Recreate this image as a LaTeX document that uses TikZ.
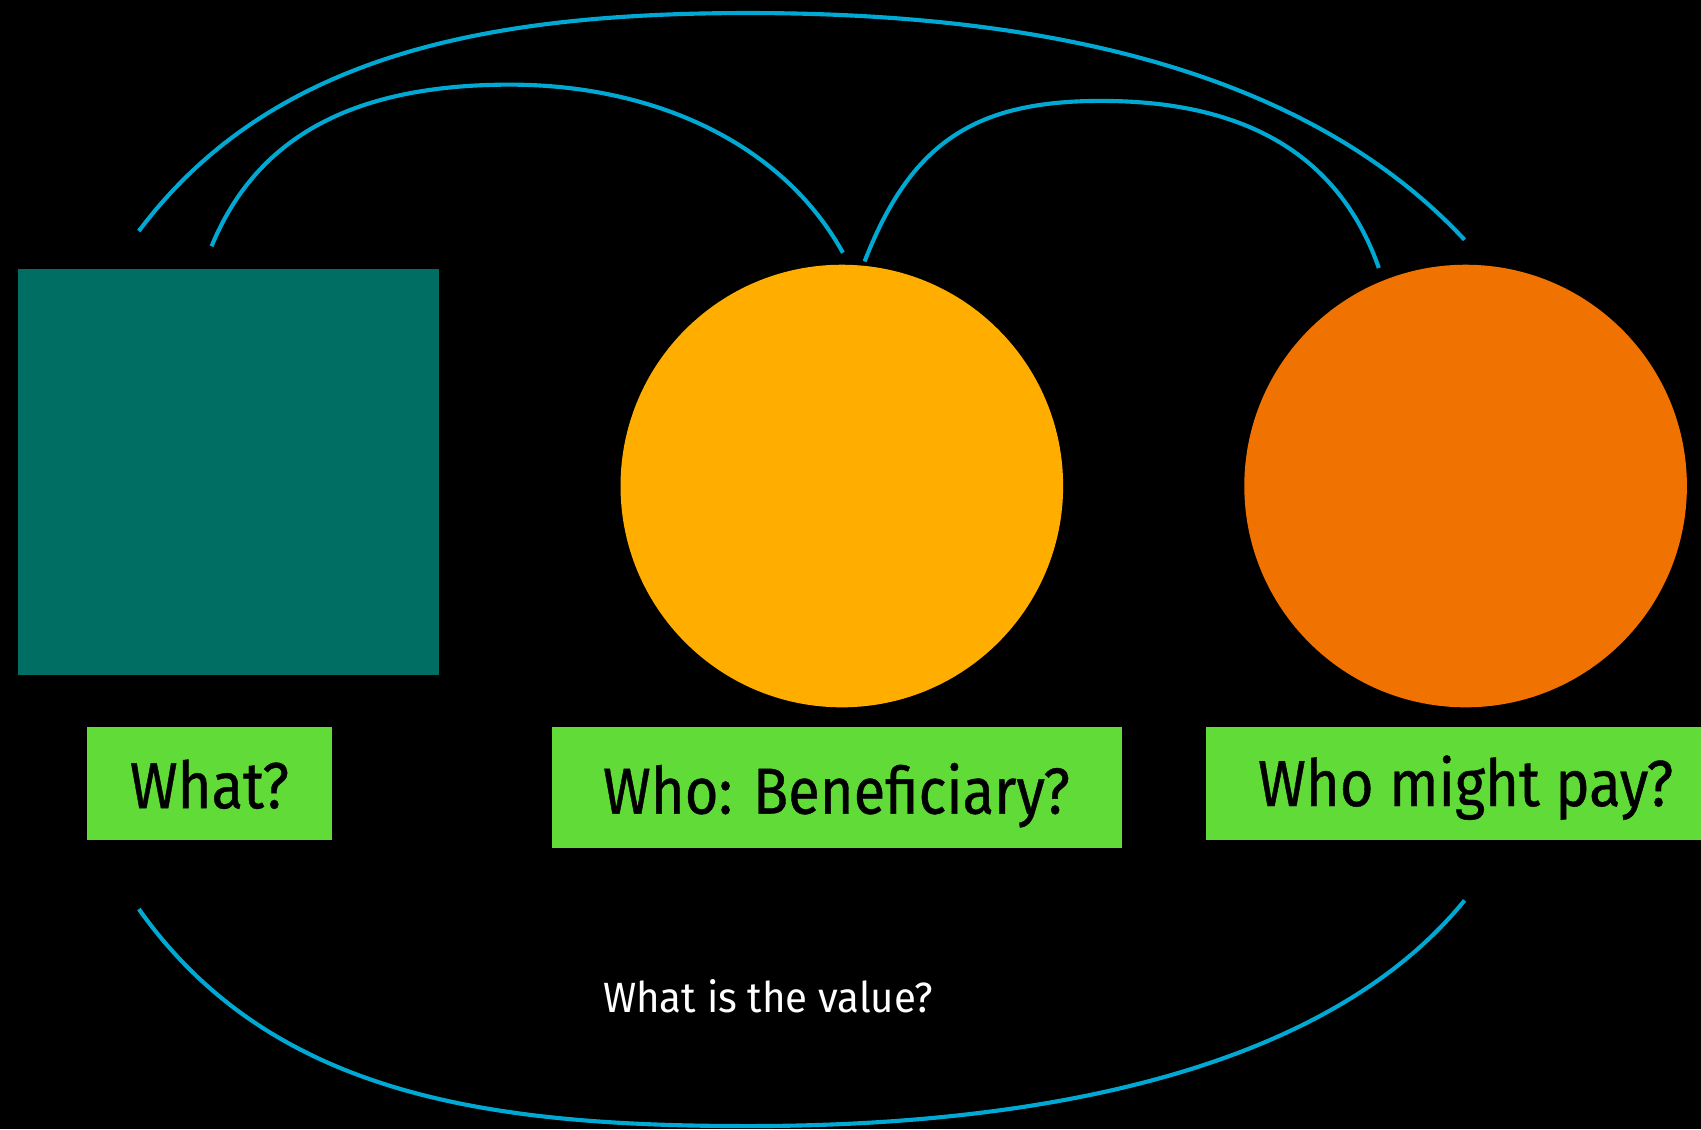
\documentclass[tikz,border=0pt]{standalone}
\usepackage{fontspec}
\setmainfont{Fira Sans}[FakeStretch=0.89,FakeBold=0.6]
\newfontfamily\valfont{Fira Sans}[FakeStretch=0.95]
\definecolor{teal1}{RGB}{1,110,100}
\definecolor{sun}{RGB}{255,174,0}
\definecolor{tang}{RGB}{240,114,0}
\definecolor{lime}{RGB}{96,219,56}
\definecolor{sky}{RGB}{0,169,212}
\begin{document}
\begin{tikzpicture}[x=0.5pt,y=-0.5pt,
  box/.style={fill=lime,draw=none,inner sep=0pt},
  lbl/.style={anchor=base,inner sep=0pt,font=\fontsize{30}{36}\selectfont,text=black},
  link/.style={draw=sky,line width=1.9pt}]
\fill[black] (0,0) rectangle (1568,1041);
\useasboundingbox (0,0) rectangle (1568,1041);
% shapes
\node[fill=teal1,inner sep=0pt,minimum width=194pt,minimum height=187pt] (sq) at (211,435) {};
\node[circle,fill=sun,inner sep=0pt,minimum size=204pt] (c1) at (776,448) {};
\node[circle,fill=tang,inner sep=0pt,minimum size=204pt] (c2) at (1351,448) {};
% label boxes
\node[box,minimum width=113pt,minimum height=52pt] (b1) at (193,722) {};
\node[box,minimum width=262.5pt,minimum height=56pt] (b2) at (771.5,726) {};
\node[box,minimum width=239pt,minimum height=52pt] (b3) at (1351,722) {};
\node[lbl] (t1) at (193,745) {What?};
\node[lbl] (t2) at (771,750) {Who: Beneficiary?};
\node[lbl] (t3) at (1351,743) {Who might pay?};
\node[anchor=base,inner sep=0pt,text=white,font=\valfont\fontsize{19.5}{24}\selectfont] (t4) at (708,933) {What is the value?};
% connectors
\coordinate (p1) at (128,213);
\coordinate (p2) at (1350,221);
\coordinate (q1) at (195,227);
\coordinate (q2) at (777,233);
\coordinate (r1) at (797,241);
\coordinate (r2) at (1271,247);
\coordinate (s1) at (128,838);
\coordinate (s2) at (1350,830);
\draw[link] (p1) .. controls (250,50) and (450,12) .. (690,12) .. controls (950,12) and (1200,60) .. (p2);
\draw[link] (q1) .. controls (235,130) and (320,78) .. (470,78) .. controls (600,78) and (720,130) .. (q2);
\draw[link] (r1) .. controls (840,130) and (900,93) .. (1015,93) .. controls (1130,93) and (1230,130) .. (r2);
\draw[link] (s1) .. controls (250,1010) and (450,1038) .. (690,1038) .. controls (950,1038) and (1220,990) .. (s2);
\end{tikzpicture}
\end{document}
